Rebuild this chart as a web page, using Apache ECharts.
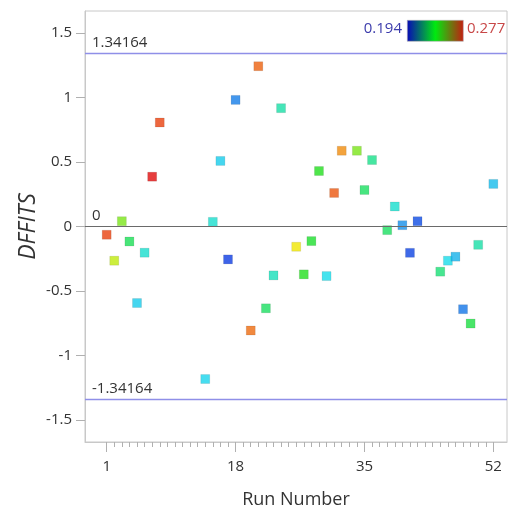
<!DOCTYPE html>
<html>
<head>
<meta charset="utf-8">
<script src="https://cdn.jsdelivr.net/npm/echarts@6/dist/echarts.min.js"></script>
<style>
  html, body { margin: 0; padding: 0; background: #fff; }
  #chart { width: 508px; height: 511px; }
</style>
</head>
<body>
<div id="chart"></div>
<script>
// Run numbers, DFFITS values and the leverage used to colour each point
const runs = [1, 2, 3, 4, 5, 6, 7, 8, 14, 15, 16, 17, 18, 20, 21, 22, 23, 24, 26, 27,
              28, 29, 30, 31, 32, 34, 35, 36, 38, 39, 40, 41, 42, 45, 46, 47, 48, 49, 50, 52];
const dffits = [-0.064, -0.265, 0.041, -0.116, -0.593, -0.203, 0.386, 0.806, -1.182, 0.036,
                0.508, -0.255, 0.981, -0.806, 1.242, -0.634, -0.379, 0.917, -0.157, -0.371,
                -0.113, 0.430, -0.384, 0.260, 0.587, 0.587, 0.283, 0.515, -0.028, 0.155,
                0.010, -0.204, 0.041, -0.350, -0.265, -0.234, -0.641, -0.752, -0.142, 0.330];
const leverage = [0.272, 0.251, 0.244, 0.230, 0.213, 0.218, 0.277, 0.272, 0.214, 0.218,
                  0.213, 0.196, 0.204, 0.268, 0.269, 0.229, 0.220, 0.222, 0.257, 0.236,
                  0.234, 0.236, 0.215, 0.270, 0.265, 0.244, 0.229, 0.225, 0.229, 0.218,
                  0.206, 0.197, 0.198, 0.227, 0.215, 0.210, 0.203, 0.232, 0.222, 0.211];

// Colour range shown in the legend
const colorRange = [0.194, 0.277];

// Axis ticks and labels
const xMajorTicks = [1, 18, 35, 52];
const xMinorTicks = Array.from({ length: 52 }, (_, i) => i + 1);
const yTicks = [-1.5, -1, -0.5, 0, 0.5, 1, 1.5];

// Cutoff lines (±2·sqrt(p/n)) and the zero line
const cutoff = 1.34164;
const refLines = [cutoff, -cutoff];
const zeroLine = 0;

const points = runs.map((r, i) => [r, dffits[i], leverage[i]]);

const FONT = '"Open Sans", "Noto Sans", sans-serif';
const TEXT = '#333333';
const FRAME = '#c8c8c8';
const CUTOFF_COLOR = '#8f8fe8';

const chart = echarts.init(document.getElementById('chart'), null, { renderer: 'canvas' });

const refLabel = v => ({
  show: true, position: 'insideStartTop', formatter: String(v),
  color: TEXT, fontSize: 15, fontFamily: FONT, distance: [7, 3]
});

chart.setOption({
  animation: false,
  textStyle: { fontFamily: FONT },
  grid: {
    left: 85, right: 1, top: 11, bottom: 69,
    show: true, borderColor: FRAME, borderWidth: 1,
    containLabel: false, outerBoundsMode: 'none'
  },
  xAxis: [
    {
      type: 'value', min: -1.86, max: 53.8, position: 'bottom',
      axisLine: { show: true, onZero: false, lineStyle: { color: FRAME } },
      axisTick: { show: true, customValues: xMajorTicks, length: 10, lineStyle: { color: '#b0b0b0' } },
      axisLabel: { customValues: xMajorTicks, fontSize: 15, color: TEXT, margin: 17, fontFamily: FONT },
      splitLine: { show: false },
      name: 'Run Number', nameLocation: 'middle', nameGap: 49, nameMoveOverlap: false,
      nameTextStyle: { fontSize: 18, color: TEXT, fontFamily: FONT }
    },
    {
      type: 'value', min: -1.86, max: 53.8, position: 'bottom',
      axisLine: { show: false, onZero: false },
      axisTick: { show: true, customValues: xMinorTicks, length: 5, lineStyle: { color: '#b0b0b0' } },
      axisLabel: { show: false },
      splitLine: { show: false }
    }
  ],
  yAxis: {
    type: 'value', min: -1.67, max: 1.67,
    axisLine: { show: true, onZero: false, lineStyle: { color: FRAME } },
    axisTick: { show: true, customValues: yTicks, length: 9, lineStyle: { color: '#b0b0b0' } },
    axisLabel: { customValues: yTicks, fontSize: 15, color: TEXT, margin: 13, fontFamily: FONT },
    splitLine: { show: false },
    name: 'DFFITS', nameLocation: 'middle', nameRotate: 90, nameGap: 45, nameMoveOverlap: false,
    nameTextStyle: { fontSize: 23, fontStyle: 'italic', color: TEXT, fontFamily: FONT }
  },
  visualMap: {
    type: 'continuous', show: false, dimension: 2, seriesIndex: 0,
    min: colorRange[0], max: colorRange[1],
    inRange: {
      color: ['#0c2ce0', '#1480e8', '#18dcec', '#18e088', '#1ede1e',
              '#90e618', '#f0ee00', '#f07a10', '#e00c0c']
    }
  },
  series: [
    {
      type: 'scatter', xAxisIndex: 0,
      symbol: 'rect', symbolSize: 9,
      itemStyle: { borderColor: 'rgba(0,0,0,0.18)', borderWidth: 0.6 },
      data: points
    },
    {
      // cutoff lines
      type: 'line', xAxisIndex: 0, data: [],
      itemStyle: { color: CUTOFF_COLOR },
      lineStyle: { color: CUTOFF_COLOR },
      markLine: {
        silent: true, symbol: ['none', 'none'],
        lineStyle: { color: CUTOFF_COLOR, width: 1.3, type: 'solid' },
        data: refLines.map(v => ({ yAxis: v, label: refLabel(v) }))
      }
    },
    {
      // zero line
      type: 'line', xAxisIndex: 0, data: [],
      itemStyle: { color: '#6a6a6a' },
      lineStyle: { color: '#6a6a6a' },
      markLine: {
        silent: true, symbol: ['none', 'none'],
        lineStyle: { color: '#6a6a6a', width: 1, type: 'solid' },
        data: [{ yAxis: zeroLine, label: refLabel(zeroLine) }]
      }
    }
  ],
  graphic: [
    {
      type: 'rect', left: 407, top: 20,
      shape: { width: 56, height: 21 },
      style: {
        fill: new echarts.graphic.LinearGradient(0, 0, 1, 0, [
          { offset: 0, color: '#0808b8' },
          { offset: 0.5, color: '#00ea10' },
          { offset: 1, color: '#c41c10' }
        ]),
        stroke: '#b0b0b0', lineWidth: 0.6
      }
    },
    {
      type: 'text', right: 508 - 402, top: 21,
      style: { text: String(colorRange[0]), fill: '#3c3cac', font: '15px ' + FONT }
    },
    {
      type: 'text', left: 467, top: 21,
      style: { text: String(colorRange[1]), fill: '#c84848', font: '15px ' + FONT }
    }
  ]
});
</script>
</body>
</html>
